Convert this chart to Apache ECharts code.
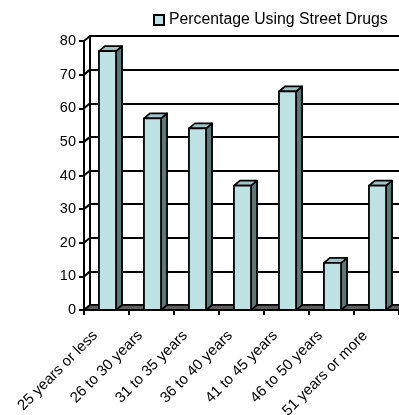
<!DOCTYPE html>
<html><head><meta charset="utf-8">
<script src="https://cdn.jsdelivr.net/npm/echarts@6/dist/echarts.min.js"></script>
<style>html,body{margin:0;padding:0;background:#fff}#c{width:399px;height:415px}</style>
</head><body><div id="c"></div>
<script>
// Age groups and share of respondents using street drugs (%)
const categories = ['25 years or less', '26 to 30 years', '31 to 35 years', '36 to 40 years', '41 to 45 years', '46 to 50 years', '51 years or more'];
const seriesName = 'Percentage Using Street Drugs';
const percentages = [77, 57, 54, 37, 65, 14, 37];
const yTicks = [0, 10, 20, 30, 40, 50, 60, 70, 80];

// Pseudo-3D depth offset of the back wall (px)
const DX = 6, DY = -5;
const FRONT = '#bee1e4', TOP = '#a2c4c7', SIDE = '#5d7777', FLOOR = '#5f5f5f';
const FONT = '"Liberation Sans", Arial, sans-serif';

const chart = echarts.init(document.getElementById('c'));

chart.setOption({
  animation: false,
  backgroundColor: '#fff',
  legend: {
    data: [{ name: seriesName, icon: 'rect' }],
    left: 148, top: 7,
    itemWidth: 10, itemHeight: 10, itemGap: 4,
    textStyle: { fontSize: 15.8, color: '#000', fontFamily: FONT }
  },
  grid: [
    { left: 84, right: 0, top: 41, bottom: 105, outerBoundsMode: 'none', containLabel: false },
    { left: 84 + DX, right: 0, top: 41 + DY, bottom: 105 - DY, outerBoundsMode: 'none', containLabel: false }
  ],
  xAxis: [
    {
      type: 'category', gridIndex: 0, data: categories,
      axisLine: { lineStyle: { color: '#000', width: 2 } },
      axisTick: { show: true, length: 5, lineStyle: { color: '#000', width: 2 } },
      axisLabel: { rotate: 45, interval: 0, margin: 12, padding: [0, 16, 0, 0], fontSize: 15, color: '#000', fontFamily: FONT },
      z: 5
    },
    { type: 'category', gridIndex: 1, data: categories, show: false }
  ],
  yAxis: [
    {
      type: 'value', gridIndex: 0, min: 0, max: 80, interval: 10,
      axisLine: { show: true, lineStyle: { color: '#000', width: 2 } },
      axisTick: { show: true, length: 5, lineStyle: { color: '#000', width: 2 } },
      axisLabel: { margin: 8, fontSize: 14.5, color: '#000', fontFamily: FONT },
      splitLine: { show: false },
      z: 5
    },
    {
      type: 'value', gridIndex: 1, min: 0, max: 80, interval: 10,
      axisLine: { show: true, lineStyle: { color: '#000', width: 2 } },
      axisTick: { show: false }, axisLabel: { show: false },
      splitLine: { show: true, lineStyle: { color: '#000', width: 2 } }
    }
  ],
  series: [
    {
      // floor of the plot box
      type: 'custom', xAxisIndex: 0, yAxisIndex: 0, z: 1, silent: true,
      data: [[0, 0]],
      renderItem: function (params, api) {
        const cs = params.coordSys;
        const b = api.coord([0, 0])[1];
        return {
          type: 'polygon',
          shape: { points: [[cs.x, b], [cs.x + cs.width + DX, b], [cs.x + cs.width + DX, b + DY], [cs.x + DX, b + DY]] },
          style: { fill: FLOOR, stroke: '#000', lineWidth: 1.5 }
        };
      }
    },
    {
      // gridlines running along the left side wall
      type: 'custom', xAxisIndex: 0, yAxisIndex: 0, z: 1, silent: true,
      data: yTicks.map(v => [0, v]),
      renderItem: function (params, api) {
        const cs = params.coordSys;
        const y = api.coord([0, api.value(1)])[1];
        return {
          type: 'line',
          shape: { x1: cs.x, y1: y, x2: cs.x + DX, y2: y + DY },
          style: { stroke: '#000', lineWidth: 2 }
        };
      }
    },
    {
      name: seriesName,
      type: 'custom', xAxisIndex: 0, yAxisIndex: 0, z: 3,
      itemStyle: { color: FRONT, borderColor: '#000', borderWidth: 1 },
      data: percentages.map((v, i) => [i, v]),
      encode: { x: 0, y: 1 },
      renderItem: function (params, api) {
        const top = api.coord([api.value(0), api.value(1)]);
        const base = api.coord([api.value(0), 0]);
        const bw = api.size([1, 0])[0] * 0.38;
        const xl = top[0] - bw / 2 + 1, xr = top[0] + bw / 2 + 1;
        const yt = top[1], yb = base[1];
        const st = { stroke: '#000', lineWidth: 1.8, lineJoin: 'round' };
        return {
          type: 'group',
          children: [
            { type: 'polygon', shape: { points: [[xr, yt], [xr + DX, yt + DY], [xr + DX, yb + DY], [xr, yb]] },
              style: Object.assign({ fill: SIDE }, st) },
            { type: 'polygon', shape: { points: [[xl, yt], [xl + DX, yt + DY], [xr + DX, yt + DY], [xr, yt]] },
              style: Object.assign({ fill: TOP }, st) },
            { type: 'rect', shape: { x: xl, y: yt, width: bw, height: yb - yt },
              style: Object.assign({ fill: FRONT }, st) }
          ]
        };
      }
    }
  ]
});
</script>
</body></html>
